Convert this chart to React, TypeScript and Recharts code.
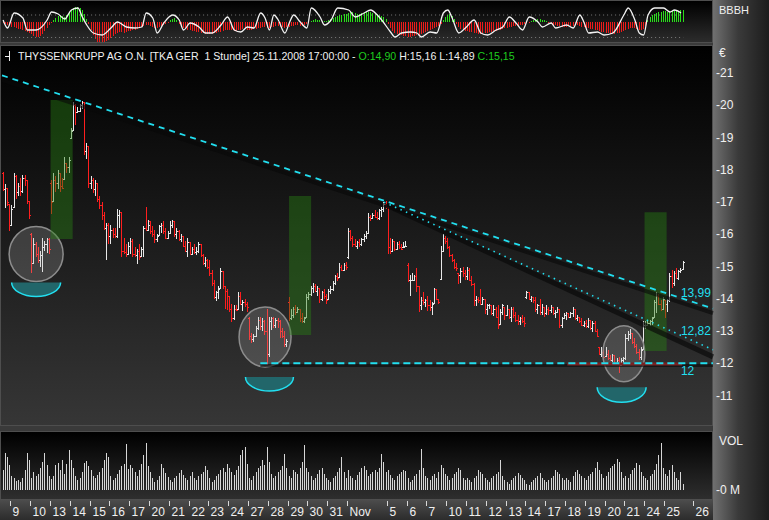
import React from 'react';
import {
  ComposedChart,
  Bar,
  Line,
  XAxis,
  YAxis,
  ReferenceArea,
  ReferenceLine,
  ReferenceDot,
} from 'recharts';

// ThyssenKrupp, Stundenbalken 8.10.2008 14:00 bis 25.11.2008 17:00

// Handelstage: Beschriftung der Zeitachse ('' = ohne Beschriftung)
const sessionLabels = ['', '9', '10', '13', '14', '15', '16', '17', '20', '21', '22', '23', '24', '27', '28', '29', '30', '31', 'Nov', '', '5', '6', '7', '10', '11', '12', '13', '14', '17', '18', '19', '20', '21', '24', '25'];
const sessionBars = [4, 9, 9, 9, 9, 9, 9, 9, 9, 9, 9, 9, 9, 9, 9, 9, 9, 9, 9, 9, 9, 9, 9, 9, 9, 9, 9, 9, 9, 9, 9, 9, 9, 9, 9];
// Eröffnung des Tages, wenn sie vom Vortagesschluss abweicht
const sessionOpens = [17.9, null, 16.0, 17.6, 19.0, null, null, null, 16.4, null, null, null, null, 13.4, null, 13.9, null, null, 15.3, null, null, 15.05, null, null, null, null, null, 14.05, null, null, null, null, null, null, null];
const futureTick = { slot: 314, label: '26' };

const highs = [
  17.95, 17.55, 17.45, 16.95,
  16.9, 17.9, 17.85, 17.6, 17.75, 17.85, 17.85, 17.7, 17.05,
  16.05, 15.9, 15.75, 15.6, 15.5, 15.9, 15.8, 15.9, 15.9,
  17.7, 17.9, 17.8, 18.0, 17.9, 17.75, 18.4, 18.2, 18.4,
  19.3, 20.1, 20.05, 19.95, 20.05, 20.15, 20.1, 18.85, 18.75,
  17.8, 17.75, 17.7, 17.6, 17.2, 17.0, 16.7, 16.35, 16.35,
  16.3, 16.2, 16.2, 16.8, 16.75, 16.7, 15.9, 15.7, 15.75,
  15.9, 15.85, 15.6, 15.55, 15.7, 15.6, 16.25, 16.85, 16.45,
  16.4, 16.25, 16.15, 16.0, 16.3, 16.35, 16.4, 16.2, 16.1,
  16.4, 16.45, 16.4, 16.2, 16.15, 16.0, 15.95, 15.8, 15.9,
  15.75, 15.6, 15.7, 15.6, 15.75, 15.7, 15.4, 15.3, 15.25,
  15.2, 14.9, 14.6, 14.25, 14.4, 14.95, 14.85, 14.4, 14.3,
  14.1, 13.85, 13.8, 13.8, 14.2, 14.2, 13.95, 14.0, 13.9,
  13.45, 12.95, 12.9, 13.15, 13.45, 13.45, 13.4, 13.35, 13.7,
  13.45, 13.45, 13.45, 13.4, 13.4, 13.35, 13.1, 13.0, 12.75,
  14.05, 13.7, 13.75, 13.8, 13.75, 13.7, 13.55, 13.45, 14.15,
  14.2, 14.4, 14.5, 14.45, 14.4, 14.35, 14.25, 14.3, 14.15,
  14.3, 14.4, 14.55, 14.75, 14.8, 15.1, 15.05, 15.1, 15.15,
  16.2, 16.15, 15.95, 15.85, 15.8, 15.85, 15.9, 16.0, 16.1,
  16.65, 16.6, 16.65, 16.75, 16.7, 16.8, 16.85, 17.0, 17.05,
  16.85, 15.9, 15.85, 15.8, 15.75, 15.8, 15.7, 15.75, 15.8,
  15.1, 14.75, 14.8, 14.75, 14.95, 14.4, 14.05, 14.2, 14.0,
  14.1, 13.95, 13.9, 14.35, 14.3, 14.0, 15.65, 16.0, 15.95,
  15.9, 15.65, 15.4, 15.25, 15.1, 14.8, 14.95, 15.0, 14.9,
  15.0, 14.95, 14.7, 14.5, 14.1, 14.05, 14.3, 14.05, 14.0,
  13.85, 13.85, 13.8, 13.8, 13.75, 13.8, 13.7, 13.85, 13.75,
  13.8, 13.7, 13.75, 13.75, 13.6, 13.5, 13.45, 13.5, 13.45,
  14.25, 14.2, 14.1, 14.05, 14.05, 13.85, 14.0, 13.85, 13.75,
  13.8, 13.75, 13.8, 13.75, 13.65, 13.75, 13.7, 13.45, 13.55,
  13.6, 13.55, 13.6, 13.75, 13.7, 13.5, 13.45, 13.4, 13.3,
  13.35, 13.4, 13.35, 13.3, 13.3, 13.05, 12.5, 12.5, 12.45,
  12.5, 12.4, 12.25, 12.3, 12.25, 12.15, 12.2, 12.15, 12.2,
  12.9, 13.0, 13.05, 12.95, 12.8, 12.6, 12.45, 12.5, 13.3,
  13.3, 13.3, 13.35, 13.45, 13.95, 14.2, 14.15, 13.95, 14.05,
  13.95, 14.0, 14.8, 14.9, 14.85, 14.95, 14.9, 14.95, 15.16,
];

const lows = [
  17.35, 16.8, 16.9, 16.1,
  16.25, 16.8, 17.1, 17.2, 17.2, 17.3, 17.5, 16.95, 16.5,
  14.8, 15.1, 15.3, 15.1, 15.0, 14.85, 15.5, 15.45, 15.4,
  16.65, 17.0, 17.3, 17.4, 17.3, 17.4, 17.7, 17.9, 17.9,
  18.95, 19.2, 19.4, 19.75, 19.8, 19.9, 18.45, 18.35, 17.45,
  17.4, 17.3, 17.2, 17.0, 16.8, 16.45, 16.15, 15.2, 15.7,
  15.7, 15.9, 15.9, 15.9, 16.2, 15.3, 15.4, 15.3, 15.35,
  15.4, 15.3, 15.3, 15.1, 15.2, 15.3, 15.3, 16.1, 16.1,
  16.0, 15.9, 15.75, 15.75, 15.95, 16.05, 16.0, 15.85, 15.85,
  16.0, 16.2, 15.9, 15.85, 15.8, 15.75, 15.6, 15.45, 15.3,
  15.35, 15.35, 15.4, 15.35, 15.4, 15.3, 15.05, 15.0, 14.95,
  14.7, 14.4, 14.0, 13.95, 14.0, 14.3, 14.3, 13.7, 13.65,
  13.6, 13.3, 13.35, 13.6, 13.65, 13.8, 13.6, 13.75, 13.6,
  12.75, 12.65, 12.65, 12.8, 13.05, 13.05, 13.0, 12.9, 11.95,
  12.2, 13.05, 13.1, 13.1, 13.1, 12.8, 12.8, 12.5, 12.5,
  13.3, 13.35, 13.4, 13.5, 13.55, 13.3, 13.25, 13.25, 13.4,
  13.95, 14.1, 14.2, 14.2, 14.1, 13.9, 13.95, 14.0, 13.85,
  13.95, 14.15, 14.25, 14.45, 14.55, 14.65, 14.85, 14.85, 14.9,
  15.25, 15.8, 15.6, 15.6, 15.55, 15.6, 15.65, 15.75, 15.85,
  16.0, 16.4, 16.45, 16.5, 16.45, 16.45, 16.55, 16.7, 16.8,
  15.4, 15.4, 15.45, 15.5, 15.5, 15.55, 15.5, 15.55, 15.6,
  14.5, 14.1, 14.55, 14.55, 14.2, 13.6, 13.65, 13.8, 13.75,
  13.65, 13.6, 13.5, 13.85, 13.95, 13.85, 14.6, 15.45, 15.7,
  15.55, 15.3, 15.15, 14.95, 14.85, 14.45, 14.5, 14.7, 14.6,
  14.6, 14.55, 14.4, 13.8, 13.8, 13.85, 13.8, 13.8, 13.55,
  13.5, 13.7, 13.5, 13.45, 13.4, 13.05, 13.2, 13.5, 13.35,
  13.45, 13.4, 13.3, 13.4, 13.3, 13.2, 13.2, 13.25, 13.15,
  14.0, 13.95, 13.9, 13.85, 13.6, 13.55, 13.5, 13.5, 13.45,
  13.5, 13.5, 13.55, 13.5, 13.4, 13.55, 13.1, 13.1, 13.35,
  13.35, 13.4, 13.4, 13.45, 13.35, 13.3, 13.25, 13.15, 13.1,
  13.1, 13.1, 13.05, 12.95, 12.95, 12.8, 12.25, 12.2, 12.15,
  12.2, 12.1, 12.05, 12.05, 11.95, 11.95, 11.7, 11.9, 12.0,
  12.1, 12.7, 12.75, 12.6, 12.5, 12.3, 12.1, 12.1, 12.4,
  13.05, 13.15, 13.15, 13.2, 13.4, 13.55, 13.8, 13.6, 13.65,
  13.4, 13.6, 13.9, 14.35, 14.4, 14.6, 14.6, 14.8, 14.89,
];

const closes = [
  17.4, 17.45, 17.0, 16.3,
  16.8, 17.8, 17.3, 17.5, 17.35, 17.75, 17.7, 17.05, 16.6,
  15.1, 15.7, 15.4, 15.2, 15.35, 15.6, 15.7, 15.85, 15.55,
  17.0, 17.7, 17.6, 17.9, 17.5, 17.45, 18.2, 18.1, 18.3,
  19.2, 20.0, 19.8, 19.82, 20.0, 20.1, 18.6, 18.75, 17.6,
  17.7, 17.4, 17.6, 17.1, 16.9, 16.6, 16.2, 16.3, 15.95,
  16.15, 16.0, 15.95, 16.6, 16.7, 15.5, 15.45, 15.4, 15.65,
  15.8, 15.4, 15.35, 15.5, 15.3, 15.55, 16.2, 16.15, 16.3,
  16.1, 16.0, 15.85, 15.95, 16.25, 16.3, 16.1, 15.9, 16.05,
  16.3, 16.4, 16.0, 16.1, 15.85, 15.95, 15.65, 15.5, 15.75,
  15.4, 15.55, 15.45, 15.5, 15.7, 15.35, 15.1, 15.2, 15.0,
  14.8, 14.5, 14.05, 14.2, 14.3, 14.85, 14.4, 14.25, 14.1,
  13.7, 13.4, 13.7, 13.65, 14.1, 13.85, 13.9, 13.85, 13.75,
  12.85, 12.75, 12.85, 13.1, 13.35, 13.15, 13.3, 13.0, 12.3,
  13.3, 13.4, 13.2, 13.35, 13.3, 13.0, 12.85, 12.6, 12.7,
  13.4, 13.5, 13.7, 13.6, 13.7, 13.4, 13.3, 13.4, 14.05,
  14.15, 14.35, 14.4, 14.25, 14.35, 14.0, 14.2, 14.1, 13.95,
  14.25, 14.3, 14.5, 14.7, 14.65, 15.0, 14.9, 15.05, 15.0,
  16.1, 15.9, 15.7, 15.65, 15.75, 15.7, 15.85, 15.95, 16.05,
  16.55, 16.5, 16.6, 16.55, 16.5, 16.75, 16.8, 16.95, 16.85,
  15.6, 15.5, 15.8, 15.55, 15.7, 15.6, 15.55, 15.6, 15.65,
  14.6, 14.6, 14.6, 14.7, 14.4, 13.8, 13.95, 13.9, 13.95,
  13.8, 13.75, 13.85, 14.3, 14.0, 13.9, 15.5, 15.9, 15.8,
  15.6, 15.35, 15.2, 15.0, 14.95, 14.75, 14.85, 14.8, 14.7,
  14.9, 14.6, 14.45, 13.95, 14.0, 13.95, 13.85, 14.0, 13.7,
  13.8, 13.8, 13.55, 13.7, 13.45, 13.2, 13.6, 13.8, 13.5,
  13.7, 13.45, 13.7, 13.5, 13.35, 13.3, 13.4, 13.3, 13.25,
  14.2, 14.0, 14.05, 13.95, 13.7, 13.8, 13.6, 13.75, 13.55,
  13.7, 13.65, 13.75, 13.55, 13.6, 13.7, 13.2, 13.4, 13.5,
  13.55, 13.45, 13.55, 13.7, 13.4, 13.45, 13.3, 13.2, 13.25,
  13.15, 13.35, 13.1, 13.25, 13.0, 12.85, 12.3, 12.35, 12.2,
  12.3, 12.15, 12.1, 12.25, 12.0, 12.1, 11.95, 12.1, 12.15,
  12.8, 12.9, 12.95, 12.65, 12.55, 12.35, 12.2, 12.4, 13.2,
  13.2, 13.25, 13.3, 13.4, 13.9, 14.1, 13.85, 13.7, 14.0,
  13.85, 13.95, 14.7, 14.5, 14.8, 14.65, 14.85, 14.9, 15.15,
];

const volumes = [
  20, 37, 33, 25,
  14, 12, 9, 10, 8, 12, 20, 37, 30,
  12, 18, 14, 16, 22, 28, 37, 25, 14,
  11, 14, 25, 27, 20, 30, 16, 26, 40,
  30, 22, 14, 10, 12, 18, 27, 29, 24,
  20, 14, 12, 15, 18, 22, 30, 37, 33,
  14, 10, 12, 16, 20, 24, 26, 46, 21,
  25, 22, 18, 14, 20, 26, 35, 47, 24,
  18, 12, 8, 10, 14, 26, 22, 17, 13,
  10, 8, 12, 14, 17, 20, 15, 12, 10,
  14, 18, 12, 10, 14, 16, 18, 24, 20,
  12, 8, 10, 14, 16, 20, 22, 18, 26,
  22, 18, 15, 20, 24, 35, 40, 43, 26,
  12, 10, 14, 18, 22, 24, 30, 25, 43,
  28, 16, 12, 14, 18, 20, 24, 36, 22,
  14, 12, 20, 18, 16, 22, 28, 45, 22,
  18, 14, 10, 12, 16, 20, 22, 16, 12,
  10, 8, 12, 14, 18, 22, 33, 18, 12,
  20, 14, 12, 10, 15, 18, 22, 24, 20,
  14, 16, 18, 20, 18, 22, 36, 28, 18,
  20, 15, 12, 10, 14, 16, 18, 20, 19,
  12, 8, 10, 14, 16, 20, 41, 22, 14,
  12, 10, 14, 16, 12, 18, 25, 22, 16,
  14, 10, 12, 16, 18, 22, 20, 12, 10,
  12, 10, 8, 12, 14, 20, 18, 16, 12,
  10, 8, 12, 14, 16, 18, 30, 14, 10,
  8, 6, 10, 12, 14, 17, 15, 12, 10,
  6, 5, 8, 10, 12, 14, 17, 12, 10,
  8, 10, 12, 14, 20, 18, 16, 12, 10,
  12, 10, 8, 14, 18, 20, 16, 14, 12,
  10, 14, 16, 18, 22, 28, 20, 16, 12,
  14, 18, 22, 24, 26, 31, 28, 18, 12,
  14, 12, 16, 20, 22, 27, 25, 18, 14,
  12, 10, 14, 16, 20, 26, 35, 47, 22,
  16, 14, 20, 25, 18, 12, 10, 18, 6,
];

// BBBH Histogramm (oberes Fenster)
const histogram = [
  -1, -2, -3, -4,
  -5, -5, -6, -7, -7, -8, -9, -10, -11,
  -12, -14, -15, -15, -14, -12, -9, -6, -3,
  -1, 2, 4, 6, 7, 6, 5, 7, 9,
  12, 14, 15, 15, 14, 12, 8, 3, -2,
  -8, -13, -17, -20, -21, -21, -20, -19, -18,
  -16, -14, -12, -11, -10, -10, -11, -10, -9,
  -9, -8, -8, -7, -6, -5, -4, -3, -3,
  -4, -5, -6, -6, -5, -4, -3, -2, -1,
  2, 3, 4, 2, -2, -4, -6, -7, -8,
  -8, -9, -9, -10, -10, -11, -11, -12, -12,
  -12, -12, -11, -11, -10, -10, -9, -8, -8,
  -8, -8, -9, -9, -8, -8, -7, -7, -8,
  -8, -8, -7, -7, -6, -6, -5, -5, -6,
  -6, -5, -5, -4, -4, -5, -5, -6, -5,
  -5, -4, -4, -3, -3, -4, -4, -3, -2,
  -1, 1, 2, 3, 2, 2, 1, 1, 1,
  2, 3, 4, 5, 6, 7, 7, 8, 8,
  9, 10, 10, 9, 8, 8, 9, 9, 10,
  10, 10, 9, 9, 8, 7, 6, 5, 3,
  -2, -6, -9, -11, -12, -13, -13, -14, -14,
  -15, -15, -14, -14, -13, -13, -12, -11, -10,
  -9, -8, -7, -6, -5, -4, -2, 2, 5,
  7, 8, 6, 3, -2, -5, -7, -8, -9,
  -9, -10, -10, -11, -11, -12, -12, -11, -11,
  -11, -10, -10, -9, -9, -8, -8, -7, -6,
  -6, -5, -5, -4, -4, -4, -3, -3, -2,
  -1, -1, 1, 2, 2, 3, 3, 2, 2,
  1, -1, -2, -3, -3, -4, -4, -5, -5,
  -5, -4, -4, -4, -3, -3, -4, -5, -5,
  -6, -6, -7, -7, -8, -8, -9, -10, -10,
  -11, -11, -12, -12, -12, -11, -11, -10, -9,
  -8, -7, -6, -6, -6, -7, -8, -8, -7,
  -4, 2, 5, 7, 8, 9, 10, 10, 11,
  11, 10, 10, 11, 12, 12, 11, 12, 12,
];

const oscSlots = [0, 2, 5, 9, 11, 15, 20, 22, 25, 28, 31, 34, 36, 38, 41, 45, 49, 52, 56, 60, 63, 65, 68, 70, 73, 77, 80, 82, 85, 89, 92, 95, 99, 102, 105, 108, 111, 114, 117, 119, 121, 123, 125, 128, 130, 132, 135, 138, 140, 144, 146, 149, 152, 157, 160, 164, 167, 170, 172, 176, 178, 181, 185, 188, 190, 194, 197, 200, 202, 204, 207, 210, 214, 217, 220, 224, 227, 230, 233, 236, 239, 243, 245, 249, 251, 256, 259, 262, 264, 266, 270, 273, 277, 282, 284, 287, 289, 291, 293, 296, 300, 303, 305, 308];
const oscValues = [2, -6, 9, 4, -8, -8, 2, 10, 8, 3, 12, 14, 5, -3, -11, -13, -6, 0, -5, -6, -5, 9, 4, -11, -1, 7, 2, -8, -1, -5, -11, -11, -3, 5, -8, -10, -5, -6, 9, 4, -8, 7, 2, -11, -1, 7, 0, -6, 14, 5, -3, 2, 14, 12, 5, 9, 12, 7, 2, -10, -15, -11, -10, -11, -15, -10, -11, 9, 12, 4, -11, -6, 2, -11, -13, -8, -5, 5, -1, -8, 5, 0, -5, -1, -6, -3, -6, 7, -1, -11, -10, -13, -11, 7, 14, 2, -11, -13, 7, 14, 14, 10, 12, 9];

// Kursachse
const priceTicks = [11, 12, 13, 14, 15, 16, 17, 18, 19, 20, 21];
const PRICE_MIN = 10.055;
const PRICE_MAX = 21.876;

// Zeichnungen im Kurschart
const greenZones = [
  { from: 22, to: 32, low: 15.86, high: 20.17 },
  { from: 130, to: 140, low: 12.88, high: 17.19 },
  { from: 291, to: 301, low: 12.38, high: 16.69 },
];
const circleMarks = [
  { slot: 15, price: 15.39, rx: 27, ry: 27.5 },
  { slot: 119, price: 12.82, rx: 26, ry: 30 },
  { slot: 282, price: 12.3, rx: 21, ry: 28 },
];
const bowlMarks = [
  { slot: 15, price: 14.51, rx: 24.5, ry: 14 },
  { slot: 121, price: 11.575, rx: 24, ry: 14 },
  { slot: 281, price: 11.255, rx: 24.5, ry: 15 },
];
const upperTrend = [{ x: 0, y: 20.934 }, { x: 322, y: 13.699 }];
const upperShadow = [{ x: 0, y: 20.79 }, { x: 322, y: 13.56 }];
const dottedTrend = [{ x: 173, y: 17.0 }, { x: 322, y: 12.42 }];
const lowerShadow = [{ x: 174, y: 16.91 }, { x: 322, y: 12.2 }];
const supportLine = [{ x: 117, y: 12 }, { x: 322, y: 12 }];
const supportShadow = [{ x: 117, y: 11.93 }, { x: 322, y: 11.93 }];
const supportRed = [{ x: 256, y: 11.98 }, { x: 308, y: 11.98 }];
const lineLabels = [
  { slot: 307, price: 14.17, text: '13,99' },
  { slot: 307, price: 13.0, text: '12,82' },
  { slot: 307, price: 11.76, text: '12' },
];

const SLOT_COUNT = 323;
const FONT = "'Liberation Sans', Arial, sans-serif";
const CYAN = '#22dff0';

// Zeilen für alle drei Fenster bauen
const rows: any[] = [];
const dayTicks: { slot: number; label: string }[] = [];
{
  let k = 0;
  sessionBars.forEach((n, s) => {
    if (sessionLabels[s]) dayTicks.push({ slot: k, label: sessionLabels[s] });
    for (let j = 0; j < n; j++, k++) {
      const open = j === 0 && sessionOpens[s] != null ? sessionOpens[s] : k > 0 ? closes[k - 1] : closes[k];
      rows.push({
        slot: k,
        range: [lows[k], highs[k]],
        open,
        high: highs[k],
        low: lows[k],
        close: closes[k],
        vol: volumes[k],
        hist: histogram[k],
      });
    }
  });
  while (rows.length < SLOT_COUNT) rows.push({ slot: rows.length });
  oscSlots.forEach((s, n) => {
    rows[s].osc = oscValues[n];
  });
  dayTicks.push(futureTick);
}
const tickLabelBySlot: Record<number, string> = {};
dayTicks.forEach((t) => {
  tickLabelBySlot[t.slot] = t.label;
});

/** OHLC Balken: Linie High-Low, links Eröffnung, rechts Schluss */
const renderOhlc = (props: any) => {
  const { x, y, width, height, payload } = props;
  if (!payload || payload.high == null) return <g />;
  const top = Math.min(y, y + height);
  const h = Math.abs(height);
  const span = payload.high - payload.low || 1;
  const toY = (p: number) => Math.round(top + ((payload.high - p) / span) * h);
  const o = Math.min(Math.max(payload.open, payload.low), payload.high);
  const px = Math.floor(x + width / 2);
  const color = payload.close >= payload.open ? '#e8e8e8' : '#ff1e1e';
  const y0 = Math.round(top);
  return (
    <g shapeRendering="crispEdges">
      <rect x={px} y={y0} width={1} height={Math.max(1, Math.round(h))} fill={color} />
      <rect x={px - 1} y={Math.min(toY(o), y0 + Math.round(h) - 1)} width={1} height={1} fill={color} />
      <rect x={px + 1} y={Math.min(toY(payload.close), y0 + Math.round(h) - 1)} width={1} height={1} fill={color} />
    </g>
  );
};

const renderVolume = (props: any) => {
  const { x, y, width, height, payload } = props;
  if (!payload || payload.vol == null) return <g />;
  const top = Math.min(y, y + height);
  return (
    <rect
      x={Math.floor(x + width / 2)}
      y={Math.round(top)}
      width={1}
      height={Math.round(Math.abs(height))}
      fill="#d6d6d6"
      shapeRendering="crispEdges"
    />
  );
};

const renderHist = (props: any) => {
  const { x, y, width, height, payload } = props;
  if (!payload || payload.hist == null) return <g />;
  const top = Math.min(y, y + height);
  return (
    <rect
      x={Math.floor(x + width / 2)}
      y={Math.round(top)}
      width={1}
      height={Math.round(Math.abs(height))}
      fill={payload.hist >= 0 ? '#29e01a' : '#f01a1a'}
      shapeRendering="crispEdges"
    />
  );
};

const PriceTick = (props: any) => {
  const { y, payload } = props;
  return (
    <text x={716} y={y} dy={4} fill="#f0f0f0" fontSize={12} fontFamily={FONT}>
      -{payload.value}
    </text>
  );
};

const VolTick = (props: any) => {
  const { y } = props;
  return (
    <text x={716} y={y} dy={4} fill="#f0f0f0" fontSize={12} fontFamily={FONT}>
      -0 M
    </text>
  );
};

const DayTick = (props: any) => {
  const { x, y, payload } = props;
  const label = tickLabelBySlot[payload.value];
  const left = Math.floor(x - 1.1) + 0.5;
  return (
    <g>
      <line x1={left} x2={left} y1={y + 11} y2={y + 16} stroke="#d8d8d8" />
      <text x={left + 2} y={y + 26} fill="#f0f0f0" fontSize={12} fontFamily={FONT}>
        {label}
      </text>
    </g>
  );
};

const panel = (top: number, height: number, bottomColor: string): React.CSSProperties => ({
  position: 'absolute',
  left: 0,
  top,
  width: 711,
  height,
  border: '1px solid #4e4e4e',
  background: `linear-gradient(to bottom, #000000, ${bottomColor})`,
});

const abs = (left: number, top: number, extra: React.CSSProperties = {}): React.CSSProperties => ({
  position: 'absolute',
  left,
  top,
  fontFamily: FONT,
  color: '#f0f0f0',
  whiteSpace: 'pre',
  ...extra,
});

export default function App() {
  return (
    <div
      style={{
        position: 'absolute',
        left: 0,
        top: 0,
        width: 769,
        height: 520,
        overflow: 'hidden',
        background: '#3a3a3a',
        fontFamily: FONT,
      }}
    >
      {/* Hintergründe */}
      <div style={panel(0, 41, '#2c2c2c')} />
      <div style={panel(45, 379, '#363636')} />
      <div style={panel(431, 67, '#2e2e2e')} />
      <div
        style={{
          position: 'absolute',
          left: 0,
          top: 500,
          width: 713,
          height: 20,
          background: 'linear-gradient(to bottom, #4c4c4c, #2c2c2c)',
        }}
      />
      <div
        style={{
          position: 'absolute',
          left: 713,
          top: 0,
          width: 56,
          height: 520,
          background: 'linear-gradient(to right, #707070, #3a3a3a 45%, #1c1c1c)',
        }}
      />

      {/* oberes Fenster: BBBH */}
      <div style={{ position: 'absolute', left: 0, top: 0 }}>
        <ComposedChart
          width={713}
          height={43}
          data={rows}
          margin={{ top: 2, right: 0, bottom: 1, left: 2 }}
          barCategoryGap={0}
        >
          <XAxis dataKey="slot" type="category" hide />
          <YAxis hide domain={[-20, 20]} allowDataOverflow />
          <ReferenceLine
            segment={[{ x: 0, y: 7 }, { x: 309, y: 7 }]}
            stroke="#7a7a7a"
            strokeDasharray="1 3"
          />
          <ReferenceLine
            segment={[{ x: 0, y: -15.5 }, { x: 309, y: -15.5 }]}
            stroke="#7a7a7a"
            strokeDasharray="1 3"
          />
          <Bar dataKey="hist" shape={renderHist} isAnimationActive={false} />
          <Line
            dataKey="osc"
            type="monotone"
            connectNulls
            stroke="#f2f2f2"
            strokeWidth={1.3}
            dot={false}
            isAnimationActive={false}
          />
        </ComposedChart>
      </div>
      <div style={abs(719, 4, { fontSize: 11 })}>BBBH</div>

      {/* Kurschart: Kreise, Schalen, Balken */}
      <div style={{ position: 'absolute', left: 0, top: 45 }}>
        <ComposedChart
          width={769}
          height={381}
          data={rows}
          margin={{ top: 0, right: 0, bottom: 0, left: 2 }}
          barCategoryGap={0}
        >
          <XAxis dataKey="slot" type="category" hide />
          <YAxis
            orientation="right"
            width={56}
            domain={[PRICE_MIN, PRICE_MAX]}
            ticks={priceTicks}
            interval={0}
            allowDataOverflow
            axisLine={false}
            tickLine={false}
            tickSize={0}
            tickMargin={0}
            tick={<PriceTick />}
          />
          {circleMarks.map((c, n) => (
            <ReferenceDot
              key={`circle-${n}`}
              x={c.slot}
              y={c.price}
              r={1}
              ifOverflow="visible"
              shape={(p: any) => (
                <ellipse
                  cx={p.cx}
                  cy={p.cy}
                  rx={c.rx}
                  ry={c.ry}
                  fill="rgba(190,190,190,0.22)"
                  stroke="#8c8c8c"
                  strokeWidth={1.5}
                />
              )}
            />
          ))}
          {bowlMarks.map((b, n) => (
            <ReferenceDot
              key={`bowl-${n}`}
              x={b.slot}
              y={b.price}
              r={1}
              ifOverflow="visible"
              shape={(p: any) => (
                <g>
                  <path
                    d={`M${p.cx - b.rx},${p.cy} A${b.rx},${b.ry} 0 0 0 ${p.cx + b.rx},${p.cy} Z`}
                    fill="#22666a"
                  />
                  <path
                    d={`M${p.cx - b.rx},${p.cy} A${b.rx},${b.ry} 0 0 0 ${p.cx + b.rx},${p.cy}`}
                    fill="none"
                    stroke={CYAN}
                    strokeWidth={1.5}
                  />
                </g>
              )}
            />
          ))}
          <Bar dataKey="range" shape={renderOhlc} isAnimationActive={false} />
        </ComposedChart>
      </div>

      {/* Kurschart: Zonen, Trendlinien, Beschriftungen darüber */}
      <div style={{ position: 'absolute', left: 0, top: 45, pointerEvents: 'none' }}>
        <ComposedChart
          width={769}
          height={381}
          data={rows}
          margin={{ top: 0, right: 0, bottom: 0, left: 2 }}
          barCategoryGap={0}
        >
          <XAxis dataKey="slot" type="category" hide />
          <YAxis
            orientation="right"
            width={56}
            domain={[PRICE_MIN, PRICE_MAX]}
            allowDataOverflow
            axisLine={false}
            tickLine={false}
            tick={false}
          />
          <Line dataKey="close" stroke="none" dot={false} isAnimationActive={false} />
          {greenZones.map((z, n) => (
            <ReferenceArea
              key={`zone-${n}`}
              x1={z.from}
              x2={z.to}
              y1={z.low}
              y2={z.high}
              fill="rgb(40,130,20)"
              fillOpacity={0.42}
              stroke="none"
            />
          ))}
          <ReferenceLine segment={upperShadow} stroke="#080808" strokeOpacity={0.6} strokeWidth={4} />
          <ReferenceLine segment={lowerShadow} stroke="#080808" strokeOpacity={0.65} strokeWidth={5} />
          <ReferenceLine segment={supportShadow} stroke="#080808" strokeOpacity={0.6} strokeWidth={3} />
          <ReferenceLine segment={supportRed} stroke="#7a2222" strokeWidth={3} />
          <ReferenceLine segment={upperTrend} stroke={CYAN} strokeWidth={1.8} strokeDasharray="6 5" />
          <ReferenceLine segment={dottedTrend} stroke={CYAN} strokeWidth={1.6} strokeDasharray="1.5 4.5" />
          <ReferenceLine segment={supportLine} stroke={CYAN} strokeWidth={2} strokeDasharray="7 4" />
          {lineLabels.map((l, n) => (
            <ReferenceDot
              key={`label-${n}`}
              x={l.slot}
              y={l.price}
              r={1}
              ifOverflow="visible"
              shape={(p: any) => (
                <text x={p.cx + 1} y={p.cy} dy={4} fill={CYAN} fontSize={12} fontFamily={FONT}>
                  {l.text}
                </text>
              )}
            />
          ))}
        </ComposedChart>
      </div>
      <div style={abs(719, 46, { fontSize: 12 })}>€</div>

      {/* Kopfzeile */}
      <svg style={{ position: 'absolute', left: 3, top: 50 }} width={10} height={12}>
        <line x1={6.5} x2={6.5} y1={1} y2={11} stroke="#f0f0f0" />
        <line x1={2} x2={6.5} y1={6.5} y2={6.5} stroke="#f0f0f0" />
      </svg>
      <div style={abs(18, 50, { fontSize: 10.6, lineHeight: '12px' })}>
        {'THYSSENKRUPP AG O.N. [TKA GER  1 Stunde] 25.11.2008 17:00:00 - '}
        <span style={{ color: '#1fcc1f' }}>O:14,90</span>
        {' H:15,16 L:14,89 '}
        <span style={{ color: '#1fcc1f' }}>C:15,15</span>
      </div>

      {/* Umsatz + Zeitachse */}
      <div style={{ position: 'absolute', left: 0, top: 432 }}>
        <ComposedChart
          width={769}
          height={88}
          data={rows}
          margin={{ top: 8, right: 0, bottom: 0, left: 2 }}
          barCategoryGap={0}
        >
          <XAxis
            dataKey="slot"
            type="category"
            height={30}
            ticks={dayTicks.map((t) => t.slot)}
            interval={0}
            axisLine={false}
            tickLine={false}
            tickSize={0}
            tickMargin={0}
            tick={<DayTick />}
          />
          <YAxis
            orientation="right"
            width={56}
            domain={[0, 50]}
            ticks={[0]}
            allowDataOverflow
            axisLine={false}
            tickLine={false}
            tickSize={0}
            tickMargin={0}
            tick={<VolTick />}
          />
          <Bar dataKey="vol" shape={renderVolume} isAnimationActive={false} />
        </ComposedChart>
      </div>
      <div style={abs(719, 434, { fontSize: 12 })}>VOL</div>
    </div>
  );
}
